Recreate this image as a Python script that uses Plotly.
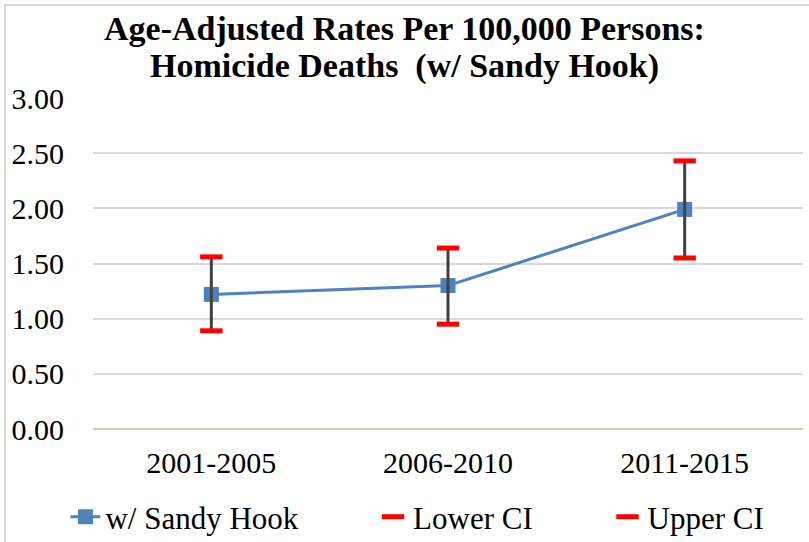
import plotly.graph_objects as go

# data
periods = ['2001-2005', '2006-2010', '2011-2015']
rate = [1.22, 1.30, 1.99]
lower_ci = [0.89, 0.95, 1.55]
upper_ci = [1.56, 1.64, 2.43]

y_ticks = [0, 0.5, 1.0, 1.5, 2.0, 2.5, 3.0]

W, H = 809, 542
ML, MR, MT, MB = 93, 6, 98, 113

BLUE = '#4f81bd'
RED = '#ff0000'
SERIF = 'Liberation Serif'
PAD = '\u00a0' * 9   # extra room between legend entries

fig = go.Figure()

# main series
fig.add_trace(go.Scatter(
    x=periods, y=rate, name='w/ Sandy Hook' + PAD, mode='lines+markers',
    line=dict(color=BLUE, width=3),
    marker=dict(symbol='square', size=15, color=BLUE),
))

# lower CI caps, with the dark bar reaching up to the upper CI
fig.add_trace(go.Scatter(
    x=periods, y=lower_ci, name='Lower CI' + PAD, mode='markers',
    marker=dict(symbol='line-ew', size=16, line=dict(color=RED, width=5)),
    error_y=dict(type='data', symmetric=False,
                 array=[u - l for u, l in zip(upper_ci, lower_ci)],
                 arrayminus=[0] * len(lower_ci),
                 color='#404040', thickness=3, width=0),
))

fig.add_trace(go.Scatter(
    x=periods, y=upper_ci, name='Upper CI', mode='markers',
    marker=dict(symbol='line-ew', size=16, line=dict(color=RED, width=5)),
))

pw = W - ML - MR
ph = H - MT - MB

# chart border (cropped on right/bottom like the original)
fig.add_shape(type='rect', xref='paper', yref='paper',
              x0=(5 - ML) / pw, x1=(W + 20 - ML) / pw,
              y0=-(H + 20 - MT - ph) / ph, y1=(MT - 5) / ph + 1,
              line=dict(color='#d9d9d9', width=2), layer='below')

# two-line title as annotations
title_lines = ['Age-Adjusted Rates Per 100,000 Persons:', 'Homicide Deaths  (w/ Sandy Hook)']
for line, py in zip(title_lines, [28, 66]):
    fig.add_annotation(
        text='<b>' + line + '</b>', xref='paper', yref='paper',
        x=(W / 2 - ML) / pw, y=1 + (MT - py) / ph,
        xanchor='center', yanchor='middle', showarrow=False,
        font=dict(family=SERIF, size=34, color='black'),
    )

fig.update_layout(
    width=W, height=H,
    margin=dict(l=ML, r=MR, t=MT, b=MB, autoexpand=False),
    paper_bgcolor='white', plot_bgcolor='white',
    font=dict(family=SERIF, size=30, color='black'),
    showlegend=True,
    legend=dict(orientation='h', x=0.516, xanchor='center', xref='container',
                y=0.046, yref='container', yanchor='middle',
                font=dict(family=SERIF, size=31, color='black'),
                itemwidth=30),
)

fig.update_xaxes(
    type='category', range=[-0.5, 2.5],
    showgrid=False, showline=False, zeroline=False,
    ticks='', ticklabelstandoff=13,
    tickfont=dict(family=SERIF, size=30, color='black'),
)
fig.update_yaxes(
    range=[0, 3], tickvals=y_ticks, tickformat='.2f',
    showgrid=True, gridcolor='#d9d9d9', gridwidth=2,
    zeroline=True, zerolinecolor='#c3d69b', zerolinewidth=2,
    showline=False, ticks='', ticklabelstandoff=28,
    tickfont=dict(family=SERIF, size=30, color='black'),
)

fig.write_html('out.html', config={'displayModeBar': False},
               post_script="document.body.style.margin='0';")
